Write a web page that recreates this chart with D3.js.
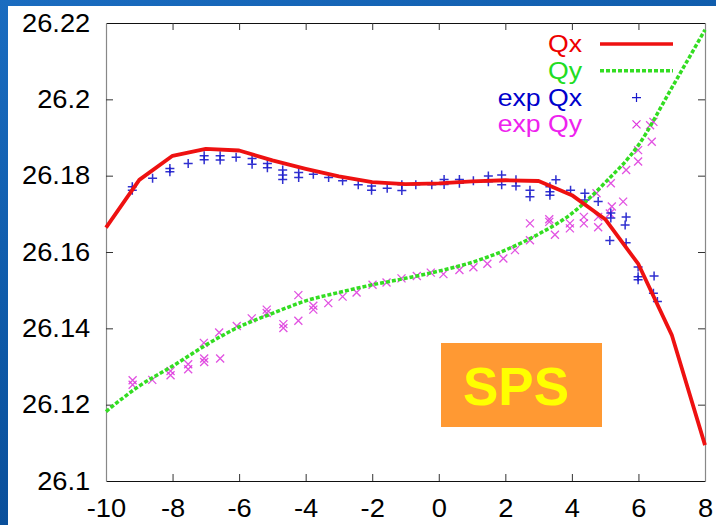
<!DOCTYPE html>
<html>
<head>
<meta charset="utf-8">
<script src="https://cdn.jsdelivr.net/npm/d3@7"></script>
<style>
  html, body { margin: 0; padding: 0; }
  body {
    width: 716px; height: 525px; overflow: hidden;
    background: linear-gradient(160deg, #1a6cc0 0%, #0d58a6 45%, #06428a 100%);
  }
  svg { position: absolute; left: 0; top: 0; }
  text { font-family: "Liberation Sans", Arial, sans-serif; }
</style>
</head>
<body>
<svg id="chart"></svg>
<script>
// ---- data ----
var xTicks = [-10, -8, -6, -4, -2, 0, 2, 4, 6, 8];
var yTicks = [26.1, 26.12, 26.14, 26.16, 26.18, 26.2, 26.22];

// model curves, sampled at integer x
var modelX = [-10, -9, -8, -7, -6, -5, -4, -3, -2, -1, 0, 1, 2, 3, 4, 5, 6, 7, 8];
var qxModel = [26.1664, 26.1789, 26.1852, 26.1870, 26.1866, 26.1840, 26.1818, 26.1798, 26.1783, 26.1778,
               26.1780, 26.1785, 26.1788, 26.1786, 26.1749, 26.1686, 26.1568, 26.1383, 26.1094];
var qyModel = [26.1182, 26.1249, 26.1301, 26.1356, 26.1404, 26.1439, 26.1472, 26.1494, 26.1514, 26.1531,
               26.1550, 26.1573, 26.1605, 26.1647, 26.1701, 26.1782, 26.1880, 26.2030, 26.2182];

// measured tunes
var expQxX = [-9.21, -9.21, -8.60, -8.08, -8.08, -7.53, -7.05, -7.05, -6.57, -6.57, -6.09, -5.61, -5.61,
              -5.15, -5.15, -4.69, -4.69, -4.69, -4.21, -4.21, -3.77, -3.31, -2.89, -2.42, -2.02, -2.02,
              -1.55, -1.11, -1.11, -0.69, -0.21, 0.16, 0.16, 0.62, 0.62, 1.04, 1.49, 1.49, 1.89, 1.89,
              2.32, 2.32, 2.74, 2.74, 3.34, 3.34, 3.34, 3.52, 3.96, 4.39, 4.39, 4.79, 5.17, 5.17, 5.14,
              5.63, 5.60, 5.63, 5.99, 5.99, 5.99, 6.47, 6.45, 6.57];
var expQxY = [26.1771, 26.1762, 26.1793, 26.1819, 26.1810, 26.1832, 26.1852, 26.1842, 26.1852, 26.1841,
              26.1848, 26.1845, 26.1830, 26.1832, 26.1821, 26.1815, 26.1802, 26.1790, 26.1808, 26.1795,
              26.1804, 26.1795, 26.1787, 26.1776, 26.1773, 26.1762, 26.1767, 26.1776, 26.1761, 26.1776,
              26.1776, 26.1790, 26.1777, 26.1790, 26.1780, 26.1787, 26.1799, 26.1784, 26.1802, 26.1776,
              26.1789, 26.1773, 26.1762, 26.1745, 26.1771, 26.1758, 26.1749, 26.1789, 26.1762, 26.1754,
              26.1736, 26.1732, 26.1702, 26.1689, 26.1630, 26.1692, 26.1671, 26.1624, 26.1561, 26.1535,
              26.1527, 26.1537, 26.1492, 26.1470];

var expQyX = [-9.20, -9.20, -8.61, -8.06, -8.06, -7.53, -7.53, -7.05, -7.05, -7.06, -6.57, -6.60, -6.07,
              -5.62, -5.17, -5.17, -4.67, -4.67, -4.22, -4.22, -3.77, -3.77, -3.32, -2.89, -2.47, -1.99,
              -1.57, -1.12, -0.66, -0.24, 0.14, 0.62, 1.04, 1.46, 1.94, 2.29, 2.74, 2.74, 3.32, 3.32,
              3.49, 3.94, 3.94, 4.36, 4.36, 4.79, 4.79, 5.20, 5.14, 5.54, 4.74, 5.17, 5.63, 5.99, 5.99,
              6.40, 6.45, 6.35];
var expQyY = [26.1264, 26.1252, 26.1265, 26.1288, 26.1277, 26.1306, 26.1293, 26.1321, 26.1312, 26.1362,
              26.1321, 26.1389, 26.1406, 26.1426, 26.1449, 26.1440, 26.1411, 26.1401, 26.1487, 26.1420,
              26.1459, 26.1449, 26.1466, 26.1483, 26.1494, 26.1514, 26.1520, 26.1531, 26.1537, 26.1546,
              26.1542, 26.1553, 26.1560, 26.1569, 26.1583, 26.1605, 26.1631, 26.1675, 26.1679, 26.1686,
              26.1645, 26.1675, 26.1662, 26.1692, 26.1675, 26.1665, 26.1692, 26.1719, 26.1701, 26.1732,
              26.1754, 26.1780, 26.1815, 26.1837, 26.1867, 26.1889, 26.1941, 26.1932];

var legendLabels = [
    {text: "Qx", textColor: "#ee0000", kind: "line", color: "#ee1111"},
    {text: "Qy", textColor: "#22dd22", kind: "dash", color: "#33dd22"},
    {text: "exp Qx", textColor: "#0000cc", kind: "plus", color: "#1a1acc"},
    {text: "exp Qy", textColor: "#ee22ee", kind: "cross", color: "#dd33dd"}
];
var annotationText = "SPS";

// ---- layout ----
var W = 716, H = 525;
var PLOT = {left: 106, right: 705, top: 23, bottom: 481};
var TICK = 7;
var FONT = 26;
var STRETCH = 1.05;   // the slide fonts are a little wider than Liberation Sans

var svg = d3.select("#chart").attr("width", W).attr("height", H);

// white panel over the blue slide background
svg.append("rect")
    .attr("x", 8).attr("y", 6)
    .attr("width", W - 8).attr("height", H - 6)
    .attr("fill", "#ffffff");

var x = d3.scaleLinear().domain([-10, 8]).range([PLOT.left, PLOT.right]);
var y = d3.scaleLinear().domain([26.1, 26.22]).range([PLOT.bottom, PLOT.top]);

// Axes ---->
function styleAxis(g, lineColor) {
    g.select(".domain").attr("stroke", lineColor).attr("stroke-width", 1.2);
    g.selectAll(".tick line").attr("stroke", "#333").attr("stroke-width", 1);
    g.selectAll(".tick text")
        .attr("fill", "#000")
        .attr("transform", "scale(" + STRETCH + ",1)")
        .style("font-size", FONT + "px")
        .style("font-family", "'Liberation Sans', Arial, sans-serif");
}

var gBottom = svg.append("g")
    .attr("transform", "translate(0," + PLOT.bottom + ")")
    .call(d3.axisBottom(x).tickValues(xTicks).tickSizeInner(-TICK).tickSizeOuter(0)
        .tickPadding(18).tickFormat(function(d) { return String(d); }));
styleAxis(gBottom, "#111");

var gTop = svg.append("g")
    .attr("transform", "translate(0," + PLOT.top + ")")
    .call(d3.axisTop(x).tickValues(xTicks).tickSizeInner(-TICK).tickSizeOuter(0).tickFormat(""));
styleAxis(gTop, "#111");

var gLeft = svg.append("g")
    .attr("transform", "translate(" + PLOT.left + ",0)")
    .call(d3.axisLeft(y).tickValues(yTicks).tickSizeInner(-TICK).tickSizeOuter(0)
        .tickPadding(15).tickFormat(d3.format(".2~f")));
styleAxis(gLeft, "#888");

var gRight = svg.append("g")
    .attr("transform", "translate(" + PLOT.right + ",0)")
    .call(d3.axisRight(y).tickValues(yTicks).tickSizeInner(-TICK).tickSizeOuter(0).tickFormat(""));
styleAxis(gRight, "#888");

// drop the end ticks that sit on the frame corners
[gBottom, gTop].forEach(function(g) {
    g.selectAll(".tick").filter(function(d) { return d === -10 || d === 8; }).select("line").remove();
});
[gLeft, gRight].forEach(function(g) {
    g.selectAll(".tick").filter(function(d) { return d === 26.1 || d === 26.22; }).select("line").remove();
});
// <---- Axes

// SPS annotation box
svg.append("rect")
    .attr("x", 441).attr("y", 343)
    .attr("width", 161).attr("height", 84)
    .attr("fill", "#ff9933");
svg.append("text")
    .attr("x", 463).attr("y", 405)
    .attr("fill", "#ffff00")
    .style("font-size", "53px")
    .style("font-weight", "bold")
    .text(annotationText);

// Model lines ---->
var plot = svg.append("g");

var qxLine = d3.line()
    .x(function(d, i) { return x(modelX[i]); })
    .y(function(d) { return y(d); });

var qyLine = d3.line()
    .x(function(d, i) { return x(modelX[i]); })
    .y(function(d) { return y(d); })
    .curve(d3.curveMonotoneX);

// Measured points ---->
var PLUS = "M-4.5,0H4.5M0,-4.5V4.5";
var CROSS = "M-4,-4L4,4M-4,4L4,-4";

plot.selectAll(".expqy")
    .data(expQyY)
    .enter().append("path")
    .attr("class", "expqy")
    .attr("d", CROSS)
    .attr("transform", function(d, i) { return "translate(" + x(expQyX[i]) + "," + y(d) + ")"; })
    .attr("stroke", "#dd33dd")
    .attr("stroke-width", 1.3)
    .attr("opacity", 0.85);

plot.selectAll(".expqx")
    .data(expQxY)
    .enter().append("path")
    .attr("class", "expqx")
    .attr("d", PLUS)
    .attr("transform", function(d, i) { return "translate(" + x(expQxX[i]) + "," + y(d) + ")"; })
    .attr("stroke", "#1a1acc")
    .attr("stroke-width", 1.5)
    .attr("opacity", 0.9);

plot.append("path")
    .datum(qyModel)
    .attr("d", qyLine)
    .attr("fill", "none")
    .attr("stroke", "#33dd22")
    .attr("stroke-width", 3.5)
    .attr("stroke-dasharray", "4,2");

plot.append("path")
    .datum(qxModel)
    .attr("d", qxLine)
    .attr("fill", "none")
    .attr("stroke", "#ee1111")
    .attr("stroke-width", 3.8)
    .attr("stroke-linejoin", "round");

// Legend ---->
var legend = svg.append("g");
var ROW0 = 52, ROW_H = 26.8, TEXT_RIGHT = 582, SAMPLE_X0 = 600, SAMPLE_X1 = 673;

legendLabels.forEach(function(item, i) {
    var base = ROW0 + i * ROW_H;
    var mid = base - 8;
    legend.append("text")
        .attr("transform", "translate(" + TEXT_RIGHT + "," + base + ") scale(1.11,1)")
        .attr("text-anchor", "end")
        .attr("fill", item.textColor)
        .style("font-size", "24px")
        .text(item.text);
    if (item.kind === "line" || item.kind === "dash") {
        legend.append("line")
            .attr("x1", SAMPLE_X0).attr("x2", SAMPLE_X1)
            .attr("y1", mid).attr("y2", mid)
            .attr("stroke", item.color)
            .attr("stroke-width", 3.5)
            .attr("stroke-dasharray", item.kind === "dash" ? "4,2" : null);
    } else {
        legend.append("path")
            .attr("d", item.kind === "plus" ? PLUS : CROSS)
            .attr("transform", "translate(" + (SAMPLE_X0 + SAMPLE_X1) / 2 + "," + mid + ")")
            .attr("stroke", item.color)
            .attr("stroke-width", 1.2);
    }
});
</script>
</body>
</html>
